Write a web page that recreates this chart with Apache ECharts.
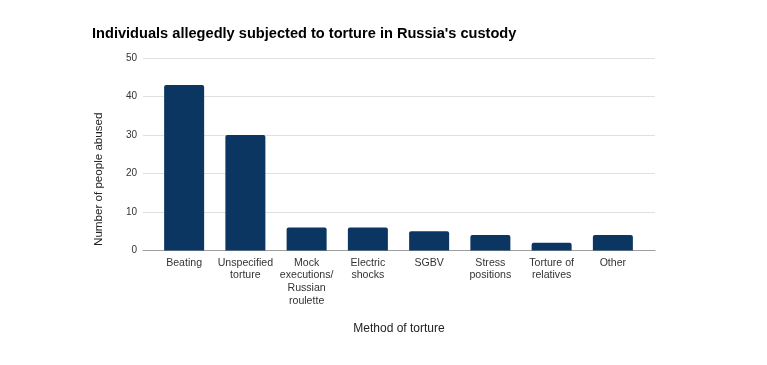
<!DOCTYPE html>
<html><head><meta charset="utf-8">
<script src="https://cdn.jsdelivr.net/npm/echarts@6/dist/echarts.min.js"></script>
<style>html,body{margin:0;padding:0;background:#fff}#c{width:767px;height:365px}</style>
</head><body><div id="c"></div>
<script>
const categories = ["Beating", "Unspecified\ntorture", "Mock\nexecutions/\nRussian\nroulette", "Electric\nshocks", "SGBV", "Stress\npositions", "Torture of\nrelatives", "Other"];
const values = [43, 30, 6, 6, 5, 4, 2, 4];
const yTicks = [0, 10, 20, 30, 40, 50];

const chart = echarts.init(document.getElementById('c'), null, {renderer: 'canvas'});
const font = 'Liberation Sans, Arial, sans-serif';
chart.setOption({
  animation: false,
  title: {
    text: "Individuals allegedly subjected to torture in Russia's custody",
    left: 87, top: 21,
    textStyle: {fontFamily: font, fontSize: 14.6, fontWeight: 'bold', color: '#000'}
  },
  grid: [
    {left: 143, right: 112, top: 58, bottom: 114.5},
    {left: 153.5, right: 123.5, top: 58, bottom: 114.5}
  ],
  xAxis: [
    {gridIndex: 0, type: 'category', data: categories, axisLabel: {show: false}, axisTick: {show: false},
     axisLine: {show: true, lineStyle: {color: '#9e9e9e', width: 1}},
     name: 'Method of torture', nameLocation: 'middle', nameGap: 72,
     nameTextStyle: {fontFamily: font, fontSize: 12, color: '#222'}},
    {gridIndex: 1, type: 'category', data: categories, axisTick: {show: false}, axisLine: {show: false},
     axisLabel: {interval: 0, fontFamily: font, fontSize: 10.6, color: '#333', lineHeight: 12.6, margin: 6}}
  ],
  yAxis: [
    {gridIndex: 0, type: 'value', min: 0, max: 50, interval: 10,
     axisLabel: {fontFamily: font, fontSize: 10, color: '#333', margin: 6},
     splitLine: {lineStyle: {color: '#e0e0e0'}}, axisLine: {show: false}, axisTick: {show: false},
     name: 'Number of people abused', nameLocation: 'middle', nameGap: 38, nameRotate: 90,
     nameTextStyle: {fontFamily: font, fontSize: 11.6, color: '#222', padding: [0, 50, 0, 0]}},
    {gridIndex: 1, type: 'value', min: 0, max: 50, interval: 10, show: false}
  ],
  series: [{
    type: 'bar', xAxisIndex: 1, yAxisIndex: 1, data: values, barWidth: 40,
    itemStyle: {color: '#0b3662', borderRadius: [2, 2, 0, 0]}
  }]
});
</script></body></html>
